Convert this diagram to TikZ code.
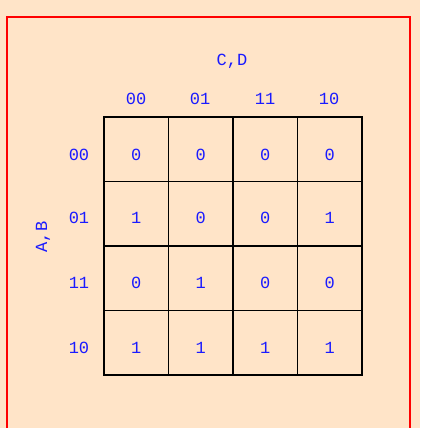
\documentclass[tikz,border=0pt]{standalone}
\usepackage{fontspec}
\setmainfont{Liberation Mono}
\definecolor{bg}{HTML}{FFE4C8}
\definecolor{tx}{HTML}{1A1AFF}
\begin{document}
\begin{tikzpicture}[x=1pt,y=-1pt,
  t/.style={text=tx,font=\fontsize{17}{19}\selectfont,inner sep=0pt},
  c/.style={draw=black,line width=1.2pt,minimum size=64.5pt,inner sep=0pt}]
\fill[bg] (0,0) rectangle (420,428);
\useasboundingbox (0,0) rectangle (420,428);
\draw[red,line width=1.5pt] (7,430) -- (7,17) -- (410,17) -- (410,430);
\node[t] (cd) at (232,61) {C,D};
\node[t,rotate=90] (ab) at (43,237) {A,B};
\foreach \h/\x in {00/136,01/200,11/265,10/329} \node[t] (col\h) at (\x,99) {\h};
\foreach \h/\y in {00/155,01/218,11/283,10/348} \node[t] (row\h) at (79,\y) {\h};
\foreach \r/\y/\ty/\vals in {0/149.25/155/{0,0,0,0},1/213.75/218/{1,0,0,1},2/278.25/283/{0,1,0,0},3/342.75/348/{1,1,1,1}}{
  \foreach \v [count=\i] in \vals {
    \node[c] (m\r\i) at ({104+64.5*(\i-0.5)},\y) {};
    \node[t] (v\r\i) at ({104+64.5*(\i-0.5)},\ty) {\v};
  }
}
\end{tikzpicture}
\end{document}
